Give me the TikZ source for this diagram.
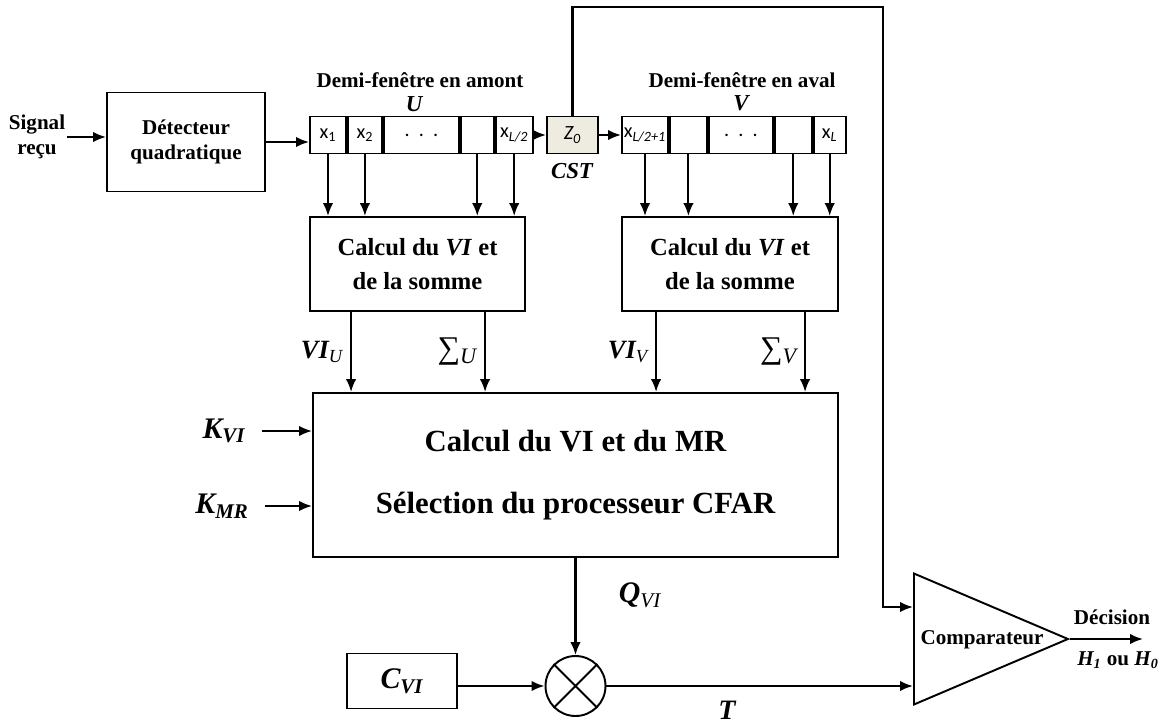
\documentclass[tikz,border=0pt]{standalone}
\usepackage{fontspec}
\setmainfont{Liberation Serif}
\newfontfamily\cellfont{Carlito}
\usetikzlibrary{arrows.meta, positioning, shapes.geometric}
\definecolor{cstbeige}{HTML}{EEECE1}

\begin{document}
\begin{tikzpicture}[x=0.02cm, y=-0.02cm,
  blockbox/.style={draw, line width=1.1pt, rectangle, align=center,
    font=\bfseries\fontsize{12}{14}\selectfont},
  calcbox/.style={draw, line width=1.1pt, rectangle, align=center,
    minimum width=4.3cm, minimum height=1.88cm,
    font=\bfseries\fontsize{14}{19}\selectfont},
  cellbox/.style={draw, line width=1.1pt, rectangle, minimum height=0.74cm,
    inner sep=0pt, font=\cellfont\fontsize{11.5}{12}\selectfont},
  boldtxt/.style={align=center, inner sep=1pt,
    font=\bfseries\fontsize{12}{14}\selectfont},
  symtxt/.style={inner sep=1pt, font=\bfseries\itshape\fontsize{15}{17}\selectfont},
  arr/.style={-{Latex[length=2.6mm, width=2.1mm]}, line width=1.2pt},
  wire/.style={line width=1.1pt}
]
\useasboundingbox (0,0) rectangle (1170,727);

% input stage
\node[boldtxt] (sig) at (37,137) {Signal\\reçu};
\node[blockbox, minimum width=3.16cm, minimum height=1.98cm] (det) at (186,142)
  {Détecteur\\quadratique};

% upstream half-window U
\node[cellbox, minimum width=0.72cm] (u1) at (328,135) {x\textsubscript{1}};
\node[cellbox, minimum width=0.68cm, right=0pt of u1] (u2) {x\textsubscript{2}};
\node[cellbox, minimum width=1.5cm, right=0pt of u2] (u3) {.\ \ .\ \ .};
\node[cellbox, minimum width=0.66cm, right=0pt of u3] (u4) {};
\node[cellbox, minimum width=0.74cm, right=0pt of u4] (u5) {x\textsubscript{\itshape L/2}};

% cell under test
\node[cellbox, fill=cstbeige, minimum width=1.02cm] (z0) at (572.5,135)
  {\itshape Z\textsubscript{0}};

% downstream half-window V
\node[cellbox, minimum width=0.92cm] (v1) at (645,135) {x\textsubscript{\itshape L/2+1}};
\node[cellbox, minimum width=0.74cm, right=0pt of v1] (v2) {};
\node[cellbox, minimum width=1.28cm, right=0pt of v2] (v3) {.\ \ .\ \ .};
\node[cellbox, minimum width=0.74cm, right=0pt of v3] (v4) {};
\node[cellbox, minimum width=0.64cm, right=0pt of v4] (v5) {x\textsubscript{\itshape L}};

\node[boldtxt] (amont) at (420,80) {Demi-fenêtre en amont};
\node[symtxt, font=\bfseries\itshape\fontsize{13}{15}\selectfont] (ulbl) at (414,104) {U};
\node[boldtxt] (aval) at (742,80) {Demi-fenêtre en aval};
\node[symtxt, font=\bfseries\itshape\fontsize{13}{15}\selectfont] (vlbl) at (741,103) {V};
\node[symtxt, font=\bfseries\itshape\fontsize{13}{15}\selectfont] (cst) at (572,171) {CST};

\draw[arr] (sig.east) -- (sig.east -| det.west);
\draw[arr] (det.east) -- (det.east -| u1.west);
\draw[arr] (u5) -- (z0);
\draw[arr] (z0) -- (v1);

% VI and sums
\node[calcbox] (calcU) at (417.5,264) {Calcul du \textit{VI} et\\de la somme};
\node[calcbox, minimum width=4.32cm] (calcV) at (730,264) {Calcul du \textit{VI} et\\de la somme};

\foreach \c in {u1,u2,u4,u5}
  \draw[arr] (\c.south) -- (\c.south |- calcU.north);
\foreach \c in {v1,v2,v4,v5}
  \draw[arr] (\c.south) -- (\c.south |- calcV.north);

\node[draw, line width=1.1pt, rectangle, align=center, minimum width=10.5cm,
  minimum height=3.28cm, font=\bfseries\fontsize{17.5}{21}\selectfont] (big) at (575.5,475)
  {Calcul du VI et du MR\\[14pt]Sélection du processeur CFAR};

\draw[arr] (calcU.south west) ++(42,0) coordinate (viu) -- (viu |- big.north)
  node[midway, left=3pt, symtxt] {VI\textsubscript{\mdseries\itshape U}};
\draw[arr] (calcU.south west) ++(176,0) coordinate (sgu) -- (sgu |- big.north)
  node[midway, left=3pt, symtxt] {\mdseries\upshape\fontsize{18}{18}\selectfont ∑\textsubscript{\itshape U}};
\draw[arr] (calcV.south west) ++(35,0) coordinate (viv) -- (viv |- big.north)
  node[midway, left=3pt, symtxt] {VI\textsubscript{\mdseries\itshape V}};
\draw[arr] (calcV.south west) ++(184,0) coordinate (sgv) -- (sgv |- big.north)
  node[midway, left=3pt, symtxt] {\mdseries\upshape\fontsize{18}{18}\selectfont ∑\textsubscript{\itshape V}};

\node[symtxt, font=\bfseries\itshape\fontsize{17}{18}\selectfont] (kvi) at (224,431) {K\textsubscript{VI}};
\node[symtxt, font=\bfseries\itshape\fontsize{17}{18}\selectfont] (kmr) at (222,506) {K\textsubscript{MR}};
\draw[arr] (kvi.east) ++(14,0) -- (kvi.east -| big.west);
\draw[arr] (kmr.east) ++(14,0) -- (kmr.east -| big.west);

% threshold
\node[draw, circle, line width=1.1pt, minimum size=1.2cm, inner sep=0pt] (mult) at (575.5,686) {};
\draw[wire] (mult.north west) -- (mult.south east) (mult.north east) -- (mult.south west);
\node[blockbox, minimum width=2.2cm, minimum height=1.1cm,
  font=\bfseries\itshape\fontsize{17}{18}\selectfont] (cvi) at (402,681) {C\textsubscript{VI}};
\node[symtxt, font=\bfseries\itshape\fontsize{17}{18}\selectfont] (qvi) at (640,595)
  {Q\textsubscript{\mdseries VI}};
\node[symtxt, font=\bfseries\itshape\fontsize{16}{17}\selectfont] (tlbl) at (727,710) {T};

\draw[arr] (big.south) -- (mult.north);
\draw[arr] (cvi.east |- mult) -- (mult.west);

% comparator
\node[draw, line width=1.1pt, isosceles triangle, isosceles triangle stretches,
  shape border rotate=0, minimum width=2.62cm, minimum height=3.08cm,
  inner sep=0pt, anchor=lower side] (comp) at (913,639) {};
\node[boldtxt] (compl) at (982,640) {Comparateur};
\coordinate (fbtop) at (883,7);
\coordinate (out) at (1143,639);

\draw[arr] (mult.east) -- (mult -| comp.lower side);
\draw[arr] (z0.north) |- (fbtop) |- ([yshift=0.64cm]comp.lower side);
\draw[arr] (comp.apex) -- (out);
\node[boldtxt] (dec) at (1112,617) {Décision};
\node[boldtxt] (hyp) at (1118,660) {\textit{H\textsubscript{1}} ou \textit{H\textsubscript{0}}};
\end{tikzpicture}
\end{document}
